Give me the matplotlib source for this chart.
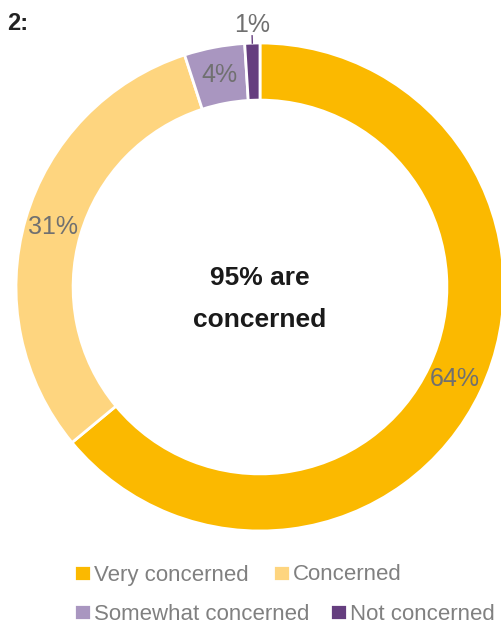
import numpy as np
import matplotlib.pyplot as plt

# data
labels = ['Very concerned', 'Concerned', 'Somewhat concerned', 'Not concerned']
values = [64, 31, 4, 1]
colors = ['#FBB900', '#FED57F', '#A996C0', '#653E7F']
center_lines = ['95% are', 'concerned']

plt.rcParams['font.family'] = ['Liberation Sans', 'DejaVu Sans']

W, H = 501, 626
fig = plt.figure(figsize=(W / 100, H / 100), dpi=100)

cx, cy, r = 260, 287, 244
ax = fig.add_axes([(cx - r) / W, (H - cy - r) / H, 2 * r / W, 2 * r / H])

width = 0.234
wedges, _ = ax.pie(values, colors=colors, startangle=90, counterclock=False,
                   radius=1, wedgeprops=dict(width=width, edgecolor='white', linewidth=2))
for w in wedges:
    w.set_clip_on(False)
ax.set_xlim(-1, 1)
ax.set_ylim(-1, 1)
ax.set_aspect('equal')
ax.axis('off')

# percentage labels
mid_r = 1 - width / 2
for w, v in zip(wedges, values):
    ang = np.deg2rad((w.theta1 + w.theta2) / 2)
    if v >= 3:
        ax.text(mid_r * np.cos(ang), mid_r * np.sin(ang), f'{v}%', ha='center', va='center',
                fontsize=18, color='#707070')
    else:
        ax.plot([1.0 * np.cos(ang), 1.03 * np.cos(ang)], [1.0 * np.sin(ang), 1.03 * np.sin(ang)],
                color='#653E7F', lw=1, clip_on=False)
        ax.text(1.075 * np.cos(ang), 1.075 * np.sin(ang), f'{v}%', ha='center', va='center',
                fontsize=18, color='#707070', clip_on=False)

# centre text, one baseline per line
for i, line in enumerate(center_lines):
    ax.text(0, 0.008 - i * 0.172, line, ha='center', va='baseline', fontsize=19,
            fontweight='bold', color='#1a1a1a')

fig.text(7 / W, 1 - 23 / H, '2:', fontsize=17, fontweight='bold', color='#222222', va='center')

# legend, flowed in two rows
leg_kw = dict(frameon=False, handlelength=0.75, handleheight=0.75, handletextpad=0.15,
              fontsize=16, labelcolor='#808080', borderpad=0, borderaxespad=0, ncol=2)
leg1 = fig.legend(wedges[:2], labels[:2], loc='center left', columnspacing=1.1,
                  bbox_to_anchor=(74 / W, 1 - 575 / H), **leg_kw)
leg2 = fig.legend(wedges[2:], labels[2:], loc='center left', columnspacing=0.93,
                  bbox_to_anchor=(74 / W, 1 - 614 / H), **leg_kw)

fig.savefig('out.png', dpi=100)
